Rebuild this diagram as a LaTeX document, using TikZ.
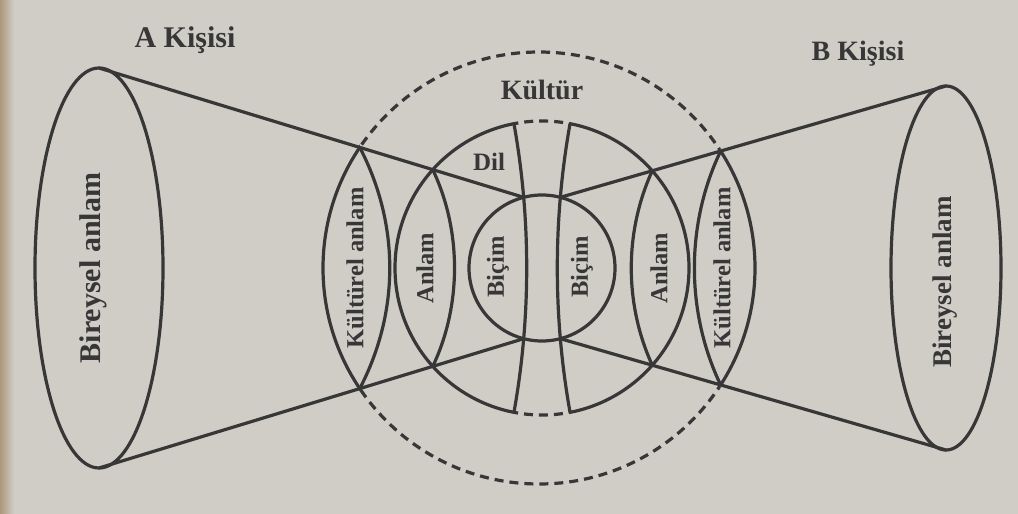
\documentclass[tikz,border=0pt]{standalone}
\usepackage{fontspec}
\setmainfont{Liberation Serif}
\usetikzlibrary{intersections,calc}
\definecolor{paper}{RGB}{208,205,199}
\definecolor{ink}{RGB}{55,55,55}
\definecolor{edge}{RGB}{172,152,122}
\begin{document}
\begin{tikzpicture}[x=1pt,y=-1pt]
\tikzset{
  ln/.style={draw=ink, line width=3.2pt},
  dsh/.style={draw=ink, line width=3.2pt, dash pattern=on 9pt off 6pt},
  head/.style={font=\bfseries\fontsize{28}{30}\selectfont, text=ink, inner sep=0pt},
  vlbl/.style={font=\bfseries\fontsize{24.5}{26}\selectfont, text=ink, rotate=90, inner sep=0pt},
}
\fill[paper] (0,0) rectangle (1018,514);
\shade[left color=edge, right color=paper] (0,0) rectangle (14,514);
\useasboundingbox (0,0) rectangle (1018,514);

% key points
\coordinate (O) at (539,268);
\coordinate (C) at (542,268);
\coordinate (Ac) at (99,268);
\coordinate (Bc) at (946,268);
\coordinate (Atop) at (99,68);
\coordinate (Abot) at (99,468);
\coordinate (Btop) at (946,86);
\coordinate (Bbot) at (946,450);
\coordinate (vlt) at ($(C)+(259:147)$);
\coordinate (vlb) at ($(C)+(101:147)$);
\coordinate (vrt) at ($(C)+(281:147)$);
\coordinate (vrb) at ($(C)+(79:147)$);

% construction paths
\path[name path=outer] (O) circle[radius=216];
\path[name path=mid] (C) circle[radius=147];
\path[name path=inn] (C) circle[radius=73];
\path[name path=vl] (vlt) .. controls ($(vlt)+(17,95)$) and ($(vlb)+(17,-95)$) .. (vlb);
\path[name path=vr] (vrt) .. controls ($(vrt)+(-17,95)$) and ($(vrb)+(-17,-95)$) .. (vrb);
\path[name intersections={of=vl and inn, sort by=vl, name=pl}];
\path[name intersections={of=vr and inn, sort by=vr, name=pr}];
\path[name path=la] (Atop) -- (pl-1);
\path[name path=lb] (Abot) -- (pl-2);
\path[name path=ra] (Btop) -- (pr-1);
\path[name path=rb] (Bbot) -- (pr-2);
\path[name intersections={of=la and outer, by=k1}];
\path[name intersections={of=lb and outer, by=k2}];
\path[name intersections={of=ra and outer, by=k3}];
\path[name intersections={of=rb and outer, by=k4}];
\path[name intersections={of=la and mid, by=m1}];
\path[name intersections={of=lb and mid, by=m2}];
\path[name intersections={of=ra and mid, by=m3}];
\path[name intersections={of=rb and mid, by=m4}];

% outer circle: solid at the sides, dashed elsewhere
\begin{scope}
\clip ($(k1)+(0,-400)$) rectangle (-10,600);
\draw[ln] (O) circle[radius=216];
\end{scope}
\begin{scope}
\clip ($(k3)+(0,-400)$) rectangle (1100,600);
\draw[ln] (O) circle[radius=216];
\end{scope}
\begin{scope}
\clip ($(k1)+(0,-400)$) rectangle ($(k3)+(0,500)$);
\draw[dsh] (O) circle[radius=216];
\end{scope}

% middle circle: dashed between the two vertical curves
\begin{scope}
\clip ($(vlt)+(0,-400)$) rectangle (-10,600);
\draw[ln] (C) circle[radius=147];
\end{scope}
\begin{scope}
\clip ($(vrt)+(0,-400)$) rectangle (1100,600);
\draw[ln] (C) circle[radius=147];
\end{scope}
\begin{scope}
\clip ($(vlt)+(0,-400)$) rectangle ($(vrt)+(0,500)$);
\draw[dsh] (C) circle[radius=147];
\end{scope}

% inner circle and vertical curves
\draw[ln] (C) circle[radius=73];
\draw[ln] (vlt) .. controls ($(vlt)+(17,95)$) and ($(vlb)+(17,-95)$) .. (vlb);
\draw[ln] (vrt) .. controls ($(vrt)+(-17,95)$) and ($(vrb)+(-17,-95)$) .. (vrb);

% person ellipses
\draw[ln] (Ac) ellipse[x radius=64, y radius=200];
\draw[ln] (Bc) ellipse[x radius=55, y radius=182];

% cone lines
\draw[ln] (Atop) -- (pl-1);
\draw[ln] (Abot) -- (pl-2);
\draw[ln] (Btop) -- (pr-1);
\draw[ln] (Bbot) -- (pr-2);

% lens arcs
\draw[ln] (k1) .. controls ($(k1)+(40,77)$) and ($(k2)+(40,-77)$) .. (k2);
\draw[ln] (m1) .. controls ($(m1)+(29,61)$) and ($(m2)+(29,-61)$) .. (m2);
\draw[ln] (k3) .. controls ($(k3)+(-35,73)$) and ($(k4)+(-35,-73)$) .. (k4);
\draw[ln] (m3) .. controls ($(m3)+(-28,61)$) and ($(m4)+(-28,-61)$) .. (m4);

% labels
\node[head, font=\bfseries\fontsize{30}{32}\selectfont] (akisi) at (185,40) {A Kişisi};
\node[head] (bkisi) at (858,54) {B Kişisi};
\node[head] (kultur) at (542,90) {Kültür};
\node[head, font=\bfseries\fontsize{25}{27}\selectfont] (dil) at (489,162) {Dil};
\node[vlbl] (kal) at (355,268) {Kültürel anlam};
\node[vlbl] (anl) at (425,268) {Anlam};
\node[vlbl] (bil) at (498,267) {Biçim};
\node[vlbl] (bir) at (582,267) {Biçim};
\node[vlbl] (anr) at (659,268) {Anlam};
\node[vlbl] (kar) at (722,268) {Kültürel anlam};
\node[vlbl, font=\bfseries\fontsize{30}{32}\selectfont] (bal) at (93,268) {Bireysel anlam};
\node[vlbl, font=\bfseries\fontsize{27}{29}\selectfont] (bar) at (945,282) {Bireysel anlam};
\end{tikzpicture}
\end{document}
